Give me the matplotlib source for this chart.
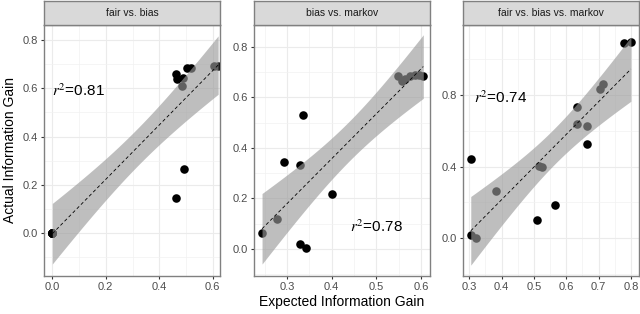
import numpy as np
import matplotlib
matplotlib.use('Agg')
import matplotlib.pyplot as plt

plt.rcParams['font.family'] = ['Liberation Sans', 'DejaVu Sans']
plt.rcParams['mathtext.fontset'] = 'stix'

# datos
titles = ['fair vs. bias', 'bias vs. markov', 'fair vs. bias vs. markov']

# varios puntos superpuestos en (0, 0)
x1 = [0.0, 0.0, 0.0, 0.0, 0.0, 0.0,
      0.464, 0.492, 0.463, 0.467, 0.486, 0.49, 0.505, 0.518, 0.605, 0.62]
y1 = [0.0, 0.0, 0.0, 0.0, 0.0, 0.0,
      0.146, 0.264, 0.66, 0.638, 0.61, 0.642, 0.684, 0.682, 0.693, 0.694]

x2 = [0.244, 0.278, 0.293, 0.330, 0.336, 0.329, 0.343, 0.400,
      0.549, 0.558, 0.564, 0.575, 0.586, 0.596, 0.605]
y2 = [0.065, 0.119, 0.343, 0.333, 0.530, 0.020, 0.003, 0.219,
      0.686, 0.666, 0.673, 0.685, 0.689, 0.689, 0.687]

x3 = [0.306, 0.305, 0.321, 0.382, 0.516, 0.524, 0.511, 0.564,
      0.634, 0.634, 0.664, 0.663, 0.704, 0.715, 0.779, 0.800]
y3 = [0.445, 0.021, 0.004, 0.264, 0.404, 0.398, 0.100, 0.184,
      0.733, 0.636, 0.627, 0.528, 0.835, 0.859, 1.090, 1.093]

r2_labels = ['0.81', '0.78', '0.74']
r2_pos = [(0.0, 0.59), (0.441, 0.088), (0.315, 0.787)]

xlims = [(-0.031, 0.627), (0.226, 0.62), (0.281, 0.825)]
ylims = [(-0.178, 0.862), (-0.107, 0.887), (-0.21, 1.19)]
xticks = [[0.0, 0.2, 0.4, 0.6], [0.3, 0.4, 0.5, 0.6], [0.3, 0.4, 0.5, 0.6, 0.7, 0.8]]
yticks = [[0.0, 0.2, 0.4, 0.6, 0.8], [0.0, 0.2, 0.4, 0.6, 0.8], [0.0, 0.4, 0.8]]

# t de Student (0.975) según grados de libertad
t_table = {9: 2.262, 10: 2.228, 11: 2.201, 12: 2.179, 13: 2.160, 14: 2.145, 15: 2.131}

lefts = [44, 254, 463]
width = 176
fig = plt.figure(figsize=(6.4, 3.14), dpi=100)
border = '#808080'

for i, (xs, ys) in enumerate([(x1, y1), (x2, y2), (x3, y3)]):
    xs = np.array(xs)
    ys = np.array(ys)
    ax = fig.add_axes([lefts[i] / 640, 1 - 276 / 314, width / 640, 251 / 314])
    ax.set_xticks(xticks[i])
    ax.set_yticks(yticks[i])
    xt = xticks[i]
    yt = yticks[i]
    dx = xt[1] - xt[0]
    dy = yt[1] - yt[0]
    ax.set_xticks(np.arange(xt[0] - dx / 2, xt[-1] + dx, dx), minor=True)
    ax.set_yticks(np.arange(yt[0] - dy / 2, yt[-1] + dy, dy), minor=True)
    ax.tick_params(which='minor', length=0)
    ax.tick_params(which='major', length=2.5, width=0.8, color='#333333',
                   labelsize=8, labelcolor='#4D4D4D', pad=2)
    ax.xaxis.set_major_formatter(plt.FuncFormatter(lambda v, p: f'{v:.1f}'))
    ax.yaxis.set_major_formatter(plt.FuncFormatter(lambda v, p: f'{v:.1f}'))
    ax.grid(which='major', color='#EBEBEB', lw=0.8)
    ax.grid(which='minor', color='#F2F2F2', lw=0.5)
    ax.set_axisbelow(True)
    for s in ax.spines.values():
        s.set_color(border)
        s.set_linewidth(1.0)

    ax.scatter(xs, ys, s=38, color='black', zorder=2, linewidths=0)

    # ajuste lineal con intervalo de confianza del 95%
    n = len(xs)
    b, a = np.polyfit(xs, ys, 1)
    xx = np.linspace(xs.min(), xs.max(), 80)
    yy = a + b * xx
    resid = ys - (a + b * xs)
    se = np.sqrt(np.sum(resid ** 2) / (n - 2))
    sxx = np.sum((xs - xs.mean()) ** 2)
    band = t_table[n - 2] * se * np.sqrt(1 / n + (xx - xs.mean()) ** 2 / sxx)
    ax.fill_between(xx, yy - band, yy + band, color='#999999', alpha=0.63,
                    lw=0, zorder=3)
    ax.plot(xx, yy, color='black', lw=0.6, ls=(0, (4, 3)), zorder=4)

    ax.text(r2_pos[i][0], r2_pos[i][1], r'$r^2$' + '=' + r2_labels[i],
            fontsize=11, va='center', ha='left', zorder=5)

    # los límites al final, para que los ticks menores no los amplíen
    ax.set_xlim(*xlims[i])
    ax.set_ylim(*ylims[i])

    # franja del título
    sax = fig.add_axes([lefts[i] / 640, 1 - 25 / 314, width / 640, 24 / 314])
    sax.set_facecolor('#D9D9D9')
    sax.set_xticks([])
    sax.set_yticks([])
    for s in sax.spines.values():
        s.set_color(border)
        s.set_linewidth(1.0)
    sax.text(0.5, 0.5, titles[i], ha='center', va='center', fontsize=7.5,
             color='#1A1A1A', transform=sax.transAxes)

fig.text(10 / 640, 1 - 150 / 314, 'Actual Information Gain', rotation=90,
         ha='center', va='center', fontsize=10)
fig.text(342 / 640, 1 - 302 / 314, 'Expected Information Gain',
         ha='center', va='center', fontsize=10)

fig.savefig('out.png', dpi=100)
